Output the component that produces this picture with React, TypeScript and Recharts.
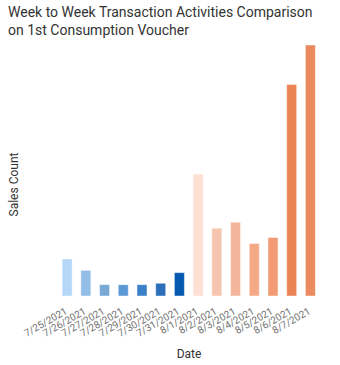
import React from 'react';
import { BarChart, Bar, XAxis, YAxis, Cell, Label } from 'recharts';

// daily sales counts (arbitrary units)
const dates = [
  '7/25/2021', '7/26/2021', '7/27/2021', '7/28/2021', '7/29/2021', '7/30/2021', '7/31/2021',
  '8/1/2021', '8/2/2021', '8/3/2021', '8/4/2021', '8/5/2021', '8/6/2021', '8/7/2021',
];
const salesCount = [370, 256, 113, 113, 113, 127, 233, 1216, 676, 736, 523, 583, 2110, 2503];
const barColors = [
  '#B5D8F8', '#92BDE6', '#78A8D6', '#5B98D6', '#3A80C9', '#2A6FB8', '#0659B0',
  '#FDDFD3', '#F5C5B0', '#F3B59B', '#F4A886', '#F19A73', '#EB8356', '#EB8A5E',
];

const data = dates.map((d, i) => ({ date: d, count: salesCount[i] }));

const YTitle = (props: any) => {
  const { x, y, height } = props.viewBox;
  const cx = x + 6;
  const cy = y + height / 2 + 14;
  return (
    <text x={cx} y={cy} transform={`rotate(-90 ${cx} ${cy})`} textAnchor="middle" dominantBaseline="central" fontSize={12} fill="#333">
      Sales Count
    </text>
  );
};

export default function App() {
  return (
    <div style={{ position: 'absolute', left: 0, top: 0, width: 340, height: 365, background: '#fff', fontFamily: 'Roboto, sans-serif' }}>
      <div style={{ position: 'absolute', left: 8, top: 3, fontSize: 14, lineHeight: '18px', color: '#333' }}>
        Week to Week Transaction Activities Comparison
        <br />
        on 1st Consumption Voucher
      </div>
      <BarChart
        width={340}
        height={365}
        data={data}
        margin={{ top: 45, right: 20, left: 8, bottom: 19 }}
        barCategoryGap="22%"
      >
        <XAxis
          dataKey="date"
          interval={0}
          angle={-30}
          textAnchor="end"
          height={50}
          tickLine={false}
          axisLine={false}
          tickMargin={5}
          tick={{ fontSize: 10, fill: '#707070', dx: -3 }}
        >
          <Label value="Date" position="insideBottom" offset={-12} style={{ fontSize: 12, fill: '#333' }} />
        </XAxis>
        <YAxis width={50} tick={false} tickLine={false} axisLine={false} domain={[0, 'dataMax']}>
          <Label content={YTitle} />
        </YAxis>
        <Bar dataKey="count" isAnimationActive={false} stroke="rgba(255,255,255,0.45)" strokeWidth={1}>
          {data.map((d, i) => (
            <Cell key={d.date} fill={barColors[i]} />
          ))}
        </Bar>
      </BarChart>
    </div>
  );
}
